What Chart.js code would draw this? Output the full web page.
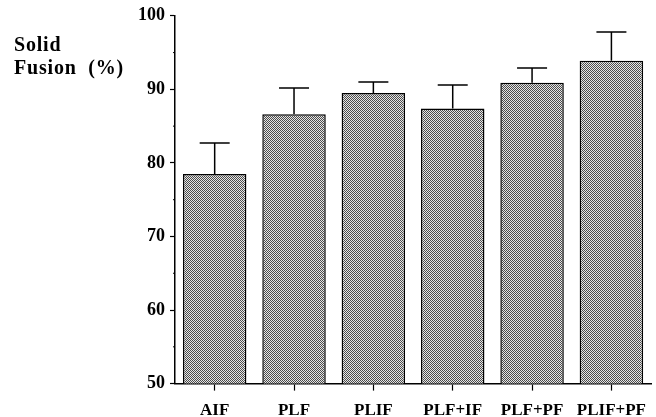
<!DOCTYPE html>
<html lang="en">
<head>
    <meta charset="UTF-8">
    <title>Solid Fusion</title>
    <script src="https://cdn.jsdelivr.net/npm/chart.js"></script>
    <style>
        body { margin: 0; background: #fff; }
        #wrap { width: 656px; height: 417px; position: relative; }
    </style>
</head>
<body>
    <div id="wrap"><canvas id="fusionChart"></canvas></div>

    <script>
        // Datos
        const categories = ['AIF', 'PLF', 'PLIF', 'PLF+IF', 'PLF+PF', 'PLIF+PF'];
        const fusionRate = [78.5, 86.6, 89.5, 87.4, 90.9, 93.9];
        const errorUp = [4.2, 3.6, 1.5, 3.2, 2.0, 3.9];
        const yTicks = [50, 60, 70, 80, 90, 100];
        const yMinorTicks = [55, 65, 75, 85, 95];
        const titleLines = ['Solid', 'Fusion  (%)'];

        const serif = "'Liberation Serif', 'DejaVu Serif', serif";

        // textura punteada de las barras
        function makePattern() {
            const c = document.createElement('canvas');
            c.width = 2; c.height = 2;
            const p = c.getContext('2d');
            p.fillStyle = '#e6e6e6';
            p.fillRect(0, 0, 2, 2);
            p.fillStyle = '#4c4c4c';
            p.fillRect(0, 0, 1, 1);
            p.fillRect(1, 1, 1, 1);
            return p.createPattern(c, 'repeat');
        }

        const errorBars = {
            id: 'errorBars',
            afterDatasetsDraw(chart) {
                const ctx = chart.ctx;
                const x = chart.scales.x, y = chart.scales.y;
                ctx.save();
                ctx.strokeStyle = '#000';
                ctx.lineWidth = 1.5;
                fusionRate.forEach((v, i) => {
                    const px = x.getPixelForValue(i);
                    const top = y.getPixelForValue(v + errorUp[i]);
                    const base = y.getPixelForValue(v);
                    ctx.beginPath();
                    ctx.moveTo(px, base);
                    ctx.lineTo(px, top);
                    ctx.moveTo(px - 15, top);
                    ctx.lineTo(px + 15, top);
                    ctx.stroke();
                });
                ctx.restore();
            }
        };

        const extras = {
            id: 'extras',
            afterDraw(chart) {
                const ctx = chart.ctx;
                const y = chart.scales.y;
                const left = chart.chartArea.left;
                ctx.save();
                ctx.strokeStyle = '#000';
                ctx.lineWidth = 1;
                yMinorTicks.forEach(v => {
                    const py = y.getPixelForValue(v);
                    ctx.beginPath();
                    ctx.moveTo(left - 2, py);
                    ctx.lineTo(left, py);
                    ctx.stroke();
                });
                ctx.fillStyle = '#000';
                ctx.font = 'bold 20px ' + serif;
                ctx.letterSpacing = '0.8px';
                ctx.textBaseline = 'alphabetic';
                ctx.fillText(titleLines[0], 14, 51);
                ctx.fillText(titleLines[1], 14, 74);
                ctx.restore();
            }
        };

        document.addEventListener('DOMContentLoaded', () => {
            const ctx = document.getElementById('fusionChart').getContext('2d');
            new Chart(ctx, {
                type: 'bar',
                data: {
                    labels: categories,
                    datasets: [{
                        data: fusionRate,
                        backgroundColor: makePattern(),
                        borderColor: '#000',
                        borderWidth: 1.5,
                        borderSkipped: false,
                        barPercentage: 0.8,
                        categoryPercentage: 1
                    }]
                },
                options: {
                    responsive: true,
                    maintainAspectRatio: false,
                    animation: false,
                    layout: { padding: { left: 133, top: 10, right: 0, bottom: -14 } },
                    plugins: { legend: { display: false }, tooltip: { enabled: false } },
                    scales: {
                        x: {
                            grid: { offset: false, drawOnChartArea: false, tickLength: 7, color: '#000', tickWidth: 1.2 },
                            border: { color: '#000', width: 1.5 },
                            ticks: { color: '#000', padding: 10, font: { family: serif, size: 17, weight: 'bold' } }
                        },
                        y: {
                            min: 50,
                            max: 100,
                            afterBuildTicks(scale) { scale.ticks = yTicks.map(v => ({ value: v })); },
                            grid: { drawOnChartArea: false, tickLength: 5, color: '#000', tickWidth: 1.2 },
                            border: { color: '#000', width: 1.5 },
                            ticks: { color: '#000', padding: 5, font: { family: serif, size: 18, weight: 'bold' } }
                        }
                    }
                },
                plugins: [errorBars, extras]
            });
        });
    </script>
</body>
</html>
